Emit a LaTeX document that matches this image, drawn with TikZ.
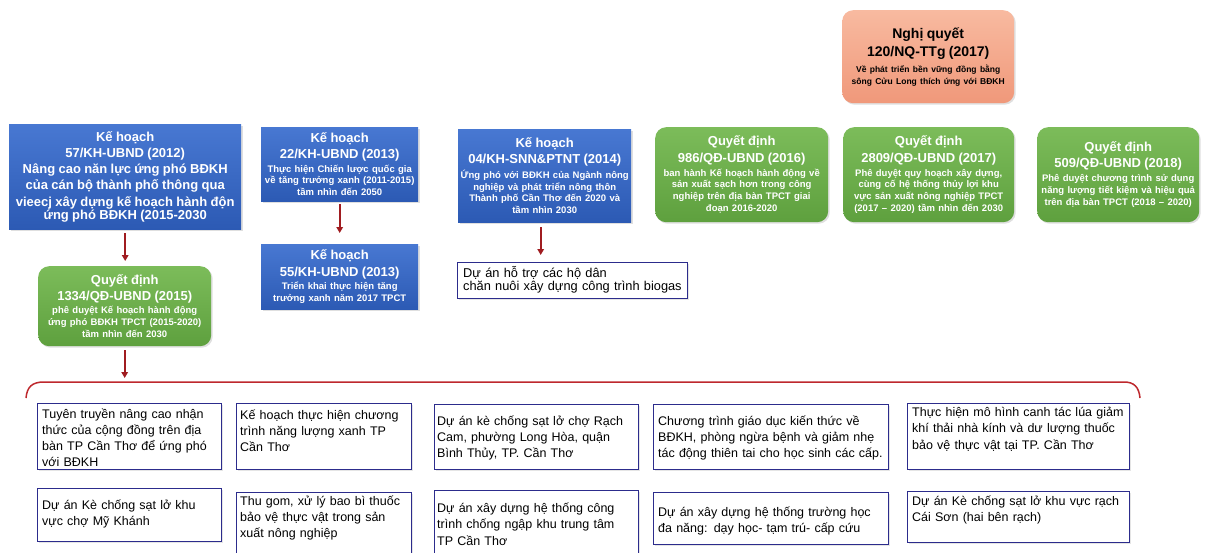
\documentclass[tikz,border=0pt]{standalone}
\usepackage{fontspec}
\setmainfont{Liberation Sans}
\usetikzlibrary{arrows.meta,shadows}
\definecolor{bluetop}{RGB}{72,120,210}
\definecolor{bluebot}{RGB}{44,90,180}
\definecolor{greentop}{RGB}{124,188,90}
\definecolor{greenbot}{RGB}{94,160,62}
\definecolor{salmtop}{RGB}{248,186,160}
\definecolor{salmbot}{RGB}{240,152,122}
\definecolor{navy}{RGB}{44,44,140}
\definecolor{arrred}{RGB}{160,28,32}
\definecolor{brred}{RGB}{190,40,45}
\newcommand\myT{\fontsize{13}{16.2}\selectfont}
\newcommand\myS{\fontsize{9.5}{11.8}\selectfont}
\newcommand\myJ[1]{\makebox[\linewidth][s]{#1}}
\begin{document}
\begin{tikzpicture}[x=1pt,y=-1pt,
  blueb/.style={rectangle, top color=bluetop, bottom color=bluebot, draw=none, inner sep=0pt,
    anchor=north west, text=white, font=\bfseries, align=center,
    drop shadow={opacity=0.25, shadow xshift=1.5pt, shadow yshift=-1.5pt}},
  greenb/.style={blueb, top color=greentop, bottom color=greenbot, rounded corners=11pt},
  salmb/.style={greenb, top color=salmtop, bottom color=salmbot, text=black},
  prj/.style={draw=navy, line width=1.3pt, fill=white, inner sep=0pt, anchor=north west,
    drop shadow={opacity=0.2, shadow xshift=1.2pt, shadow yshift=-1.2pt}},
  ptx/.style={inner sep=0pt, anchor=base west, align=left, font={\fontsize{12.5}{16.2}\selectfont}},
  arr/.style={draw=arrred, line width=1.6pt, -{Triangle[length=6pt,width=6.5pt]}},
  brace/.style={draw=brred, line width=1.5pt}
]
\useasboundingbox (0,0) rectangle (1205,552);
\clip (0,0) rectangle (1205,552);
\fill[white] (0,0) rectangle (1205,552);

% ---- top row ----
\node[salmb, minimum width=172pt, minimum height=93pt, text width=168pt] (nq) at (842,10)
 {\fontsize{14}{18.4}\selectfont Nghị quyết\par 120/NQ-TTg (2017)\par\vskip5pt
  \fontsize{8.5}{10.8}\selectfont Về phát triển bền vững đồng bằng\par sông Cửu Long thích ứng với BĐKH};

\node[blueb, minimum width=232pt, minimum height=105pt, text width=228pt] (k57) at (9,124)
 {\myT Kế hoạch\par 57/KH-UBND (2012)\par Nâng cao năn lực ứng phó BĐKH\par của cán bộ thành phố thông qua\par vieecj xây dựng kế hoạch hành độn\par ứng phó BĐKH (2015-2030};

\node[blueb, minimum width=157pt, minimum height=74pt, text width=155pt] (k22) at (261,127)
 {\myT Kế hoạch\par 22/KH-UBND (2013)\par\vskip1.5pt\myS Thực hiện Chiến lược quốc gia\par về tăng trưởng xanh (2011-2015)\par tầm nhìn đến 2050};

\node[blueb, minimum width=157pt, minimum height=65pt, text width=155pt] (k55) at (261,244)
 {\myT Kế hoạch\par 55/KH-UBND (2013)\par\vskip1.5pt\myS Triển khai thực hiện tăng\par trưởng xanh năm 2017 TPCT};

\node[greenb, minimum width=173pt, minimum height=80pt, text width=169pt] (q1334) at (38,266)
 {\myT Quyết định\par 1334/QĐ-UBND (2015)\par\vskip1.2pt\myS phê duyệt Kế hoạch hành động\par ứng phó BĐKH TPCT (2015-2020)\par tầm nhìn đến 2030};

\node[blueb, minimum width=173pt, minimum height=93pt, text width=169pt] (k04) at (458,129)
 {\myT Kế hoạch\par 04/KH-SNN\&PTNT (2014)\par\vskip3pt\myS Ứng phó với BĐKH của Ngành nông\par nghiệp và phát triển nông thôn\par Thành phố Cần Thơ đến 2020 và\par tầm nhìn 2030};

\node[greenb, minimum width=173pt, minimum height=95pt, text width=169pt] (q986) at (655,127)
 {\myT Quyết định\par 986/QĐ-UBND (2016)\par\vskip2.2pt\myS ban hành Kế hoạch hành động về\par sản xuất sạch hơn trong công\par nghiệp trên địa bàn TPCT giai\par đoạn 2016-2020};

\node[greenb, minimum width=171pt, minimum height=95pt, text width=167pt] (q2809) at (843,127)
 {\myT Quyết định\par 2809/QĐ-UBND (2017)\par\vskip2.2pt\myS Phê duyệt quy hoạch xây dựng,\par cùng cố hệ thống thủy lợi khu\par vực sản xuất nông nghiệp TPCT\par (2017 – 2020) tầm nhìn đến 2030};

\node[greenb, minimum width=162pt, minimum height=95pt, text width=160pt] (q509) at (1037,127)
 {\myT Quyết định\par 509/QĐ-UBND (2018)\par\vskip2.2pt\myS Phê duyệt chương trình sử dụng\par năng lượng tiết kiệm và hiệu quả\par trên địa bàn TPCT (2018 – 2020)};

% ---- biogas ----
\node[prj, minimum width=230pt, minimum height=36pt] (bio) at (457,262) {};
\node[ptx, font={\fontsize{12.8}{12.7}\selectfont}, text width=224pt] (biot) at (463,277.3)
 {Dự án hỗ trợ các hộ dân\par chăn nuôi xây dựng công trình biogas};

% ---- arrows ----
\draw[arr, shorten <=4pt, shorten >=5pt] (k57.south) -- (k57.south |- q1334.north);
\draw[arr, shorten <=3pt, shorten >=11pt] (k22.south) -- (k22.south |- k55.north);
\draw[arr, shorten <=5pt, shorten >=7pt] ([xshift=-4pt]k04.south) -- ([xshift=-4pt]k04.south |- bio.north);
\coordinate (brtop) at (124,382);
\draw[arr, shorten <=4pt, shorten >=4pt] (q1334.south) -- (q1334.south |- brtop);

% ---- brace ----
\draw[brace] (26,398) .. controls (27,387) and (32,382) .. (44,382) -- (1124,382)
  .. controls (1134,382) and (1139,387) .. (1140,398);

% ---- bottom row 1 ----
\node[prj, minimum width=184pt, minimum height=66pt] (b1) at (37,403) {};
\node[ptx, text width=176pt] (b1t) at (42,418)
 {\myJ{Tuyên truyền nâng cao nhận}\par\myJ{thức của cộng đồng trên địa}\par\myJ{bàn TP Cần Thơ để ứng phó}\par với BĐKH};

\node[prj, minimum width=175pt, minimum height=66pt] (b2) at (236,403) {};
\node[ptx, text width=167pt] (b2t) at (240,419)
 {\myJ{Kế hoạch thực hiện chương}\par\myJ{trình năng lượng xanh TP}\par Cần Thơ};

\node[prj, minimum width=204pt, minimum height=65pt] (b3) at (434,404) {};
\node[ptx, text width=200pt] (b3t) at (437,425)
 {Dự án kè chống sạt lở chợ Rạch\par Cam, phường Long Hòa, quận\par Bình Thủy, TP. Cần Thơ};

\node[prj, minimum width=235pt, minimum height=65pt] (b4) at (653,404) {};
\node[ptx, text width=240pt] (b4t) at (658,425)
 {Chương trình giáo dục kiến thức về\par BĐKH, phòng ngừa bệnh và giảm nhẹ\par tác động thiên tai cho học sinh các cấp.};

\node[prj, minimum width=222pt, minimum height=66pt] (b5) at (907,403) {};
\node[ptx, text width=225pt] (b5t) at (912,416.7)
 {Thực hiện mô hình canh tác lúa giảm\par khí thải nhà kính và dư lượng thuốc\par bảo vệ thực vật tại TP. Cần Thơ};

% ---- bottom row 2 ----
\node[prj, minimum width=184pt, minimum height=53pt] (c1) at (37,488) {};
\node[ptx, text width=176pt] (c1t) at (42,509.3)
 {Dự án Kè chống sạt lở khu\par vực chợ Mỹ Khánh};

\node[prj, minimum width=175pt, minimum height=75pt] (c2) at (236,492) {};
\node[ptx, text width=167pt] (c2t) at (240,505)
 {\myJ{Thu gom, xử lý bao bì thuốc}\par\myJ{bảo vệ thực vật trong sản}\par xuất nông nghiệp};

\node[prj, minimum width=204pt, minimum height=75pt] (c3) at (434,490) {};
\node[ptx, text width=200pt] (c3t) at (437,512.7)
 {Dự án xây dựng hệ thống công\par trình chống ngập khu trung tâm\par TP Cần Thơ};

\node[prj, minimum width=235pt, minimum height=52pt] (c4) at (653,492) {};
\node[ptx, text width=240pt] (c4t) at (658,516)
 {Dự án xây dựng hệ thống trường học\par đa năng: dạy học- tạm trú- cấp cứu};

\node[prj, minimum width=222pt, minimum height=51pt] (c5) at (907,491) {};
\node[ptx, text width=225pt] (c5t) at (912,505)
 {Dự án Kè chống sạt lở khu vực rạch\par Cái Sơn (hai bên rạch)};
\end{tikzpicture}
\end{document}
